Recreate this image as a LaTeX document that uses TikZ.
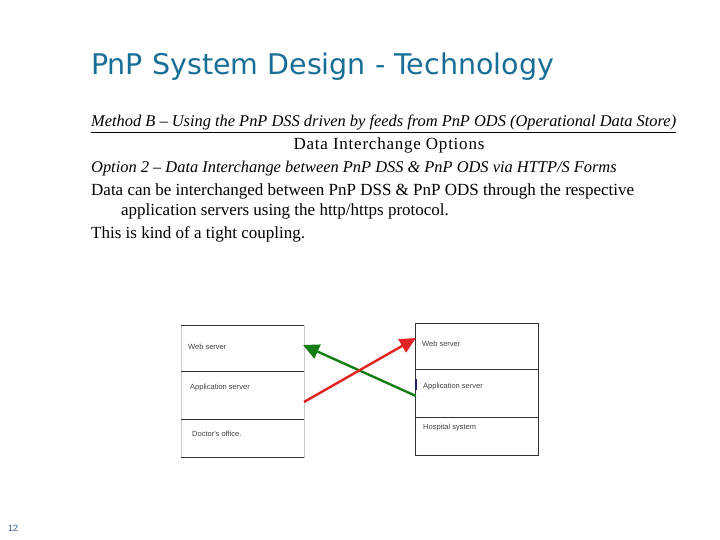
\documentclass[tikz,border=0pt]{standalone}
\usepackage{fontspec}
\setmainfont{Liberation Serif}
\newfontfamily\titlefont{DejaVu Sans}
\newfontfamily\boxfont{Liberation Sans}
\usepackage{tikz}
\usetikzlibrary{calc,positioning,arrows.meta}

\definecolor{titleblue}{RGB}{24,110,150}
\definecolor{arrowgreen}{RGB}{20,125,20}
\definecolor{arrowred}{RGB}{225,35,35}
\definecolor{pagenum}{RGB}{50,90,130}
\definecolor{boxline}{RGB}{50,50,50}
\definecolor{sideline}{RGB}{200,200,200}
\definecolor{tickblue}{RGB}{30,30,90}

\tikzset{
	txtline/.style={anchor=base west, inner sep=0, font=\fontsize{17}{20}\selectfont},
	itline/.style={txtline, font=\fontsize{16.4}{20}\selectfont\itshape},
	cell/.style={minimum width=123, minimum height=46, inner sep=0, outer sep=0, anchor=north west},
	lbl/.style={anchor=west, inner sep=0, text=black!75, font=\boxfont\fontsize{7.5}{9}\selectfont},
	link/.style={line width=2.4, -{Triangle[length=16, width=15]}},
}

\begin{document}
\begin{tikzpicture}[x=1pt,y=-1pt]
			\useasboundingbox (0,0) rectangle (720,540);

			\node[anchor=base west, inner sep=0, text=titleblue, font=\titlefont\fontsize{28.5}{32}\selectfont] (title) at (91,75) {PnP System Design - Technology};

			\node[itline] (method) at (91,127) {\underline{Method B – Using the PnP DSS driven by feeds from PnP ODS (Operational Data Store)}};
			\node[txtline, anchor=base] (opts) at (389,150) {\addfontfeature{LetterSpace=4.5}Data Interchange Options};
			\node[itline] (opt2) at (91,173) {Option 2 – Data Interchange between PnP DSS \& PnP ODS via HTTP/S Forms};
			\node[txtline] (data1) at (91,196) {Data can be interchanged between PnP DSS \& PnP ODS through the respective};
			\node[txtline] (data2) at (121,215) {application servers using the http/https protocol.};
			\node[txtline] (tight) at (91,238) {This is kind of a tight coupling.};

			%DSS side
			\node[cell] (lweb) at (181,325) {};
			\node[cell, minimum height=48, below=0pt of lweb] (lapp) {};
			\node[cell, minimum height=38, below=0pt of lapp] (ldoc) {};
			\draw[sideline] (lweb.north west) rectangle (ldoc.south east);
			\draw[boxline] (lweb.north west) -- (lweb.north east);
			\draw[boxline] (lapp.north west) -- (lapp.north east);
			\draw[boxline] (ldoc.north west) -- (ldoc.north east);
			\draw[boxline] (ldoc.south west) -- (ldoc.south east);

			\node[lbl] (lwebt) at ($(lweb.west)+(7,-1)$) {Web server};
			\node[lbl] (lappt) at ($(lapp.west)+(9,-7)$) {Application server};
			\node[lbl] (ldoct) at ($(ldoc.west)+(11,-4)$) {Doctor's office.};

			%ODS side
			\node[cell, draw=boxline] (rweb) at (415,323) {};
			\node[cell, draw=boxline, minimum height=48, below=0pt of rweb] (rapp) {};
			\node[cell, draw=boxline, minimum height=38, below=0pt of rapp] (rhos) {};

			\node[lbl] (rwebt) at ($(rweb.west)+(7,-2)$) {Web server};
			\node[lbl] (rappt) at ($(rapp.west)+(8,-6)$) {Application server};
			\node[lbl] (rhost) at ($(rhos.west)+(8,-8)$) {Hospital system};

			\coordinate (tick1) at ($(rapp.north west)+(1,10)$);
			\coordinate (tick2) at ($(rapp.north west)+(1,21)$);
			\draw[tickblue, line width=1.5] (tick1) -- (tick2);

			%links between the application servers and web servers
			\coordinate (gstart) at ($(rapp.west)+(1,3)$);
			\coordinate (gtip) at ($(lweb.east)+(-1,-3)$);
			\coordinate (rstart) at ($(lapp.east)+(0,7)$);
			\coordinate (rtip) at ($(rweb.west)+(1,-8)$);

			\draw[link, arrowgreen] (gstart) -- (gtip);
			\draw[link, arrowred] (rstart) -- (rtip);

			\node[anchor=base west, inner sep=0, text=pagenum, font=\boxfont\fontsize{9}{10}\selectfont] (pnum) at (8,531) {12};
		\end{tikzpicture}
\end{document}
